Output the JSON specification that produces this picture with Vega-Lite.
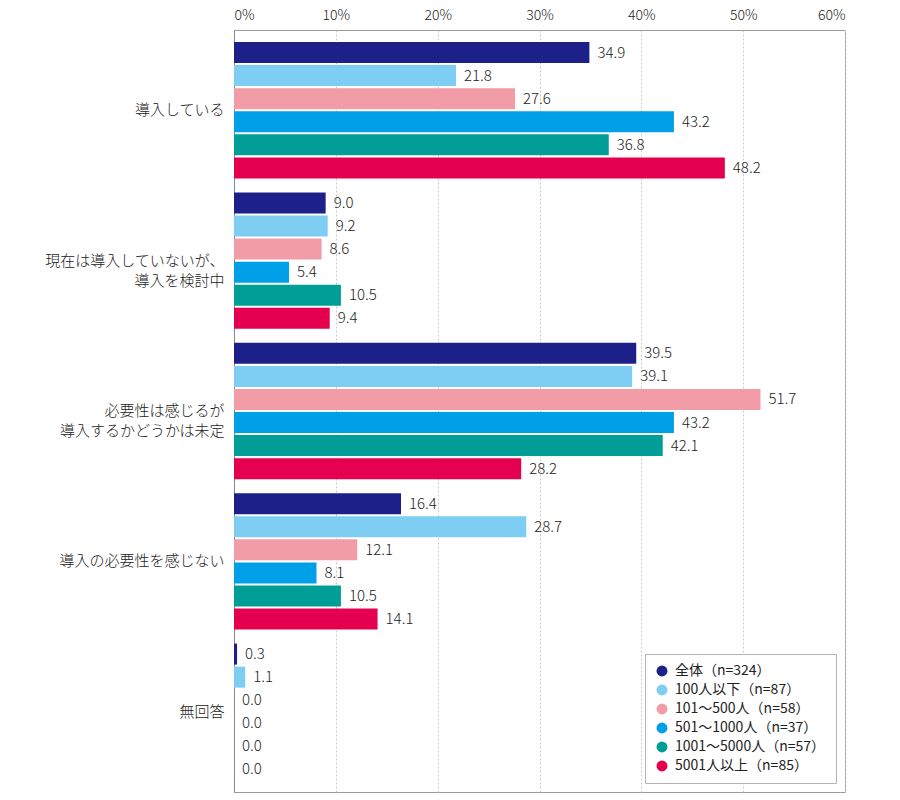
{
  "$schema": "https://vega.github.io/schema/vega-lite/v6.json",
  "width": 611,
  "height": 762,
  "autosize": {"type": "none"},
  "padding": {"left": 234, "top": 30, "right": 55, "bottom": 8},
  "background": "white",
  "config": {
    "font": "Noto Sans CJK JP",
    "view": {"stroke": "#9a9a9a", "strokeWidth": 1}
  },
  "data": {
    "values": [
      {"q": "導入している", "g": "全体（n=324）", "v": 34.9},
      {"q": "導入している", "g": "100人以下（n=87）", "v": 21.8},
      {"q": "導入している", "g": "101～500人（n=58）", "v": 27.6},
      {"q": "導入している", "g": "501～1000人（n=37）", "v": 43.2},
      {"q": "導入している", "g": "1001～5000人（n=57）", "v": 36.8},
      {"q": "導入している", "g": "5001人以上（n=85）", "v": 48.2},
      {"q": "現在は導入していないが、|導入を検討中", "g": "全体（n=324）", "v": 9.0},
      {"q": "現在は導入していないが、|導入を検討中", "g": "100人以下（n=87）", "v": 9.2},
      {"q": "現在は導入していないが、|導入を検討中", "g": "101～500人（n=58）", "v": 8.6},
      {"q": "現在は導入していないが、|導入を検討中", "g": "501～1000人（n=37）", "v": 5.4},
      {"q": "現在は導入していないが、|導入を検討中", "g": "1001～5000人（n=57）", "v": 10.5},
      {"q": "現在は導入していないが、|導入を検討中", "g": "5001人以上（n=85）", "v": 9.4},
      {"q": "必要性は感じるが|導入するかどうかは未定", "g": "全体（n=324）", "v": 39.5},
      {"q": "必要性は感じるが|導入するかどうかは未定", "g": "100人以下（n=87）", "v": 39.1},
      {"q": "必要性は感じるが|導入するかどうかは未定", "g": "101～500人（n=58）", "v": 51.7},
      {"q": "必要性は感じるが|導入するかどうかは未定", "g": "501～1000人（n=37）", "v": 43.2},
      {"q": "必要性は感じるが|導入するかどうかは未定", "g": "1001～5000人（n=57）", "v": 42.1},
      {"q": "必要性は感じるが|導入するかどうかは未定", "g": "5001人以上（n=85）", "v": 28.2},
      {"q": "導入の必要性を感じない", "g": "全体（n=324）", "v": 16.4},
      {"q": "導入の必要性を感じない", "g": "100人以下（n=87）", "v": 28.7},
      {"q": "導入の必要性を感じない", "g": "101～500人（n=58）", "v": 12.1},
      {"q": "導入の必要性を感じない", "g": "501～1000人（n=37）", "v": 8.1},
      {"q": "導入の必要性を感じない", "g": "1001～5000人（n=57）", "v": 10.5},
      {"q": "導入の必要性を感じない", "g": "5001人以上（n=85）", "v": 14.1},
      {"q": "無回答", "g": "全体（n=324）", "v": 0.3},
      {"q": "無回答", "g": "100人以下（n=87）", "v": 1.1},
      {"q": "無回答", "g": "101～500人（n=58）", "v": 0.0},
      {"q": "無回答", "g": "501～1000人（n=37）", "v": 0.0},
      {"q": "無回答", "g": "1001～5000人（n=57）", "v": 0.0},
      {"q": "無回答", "g": "5001人以上（n=85）", "v": 0.0}
    ]
  },
  "encoding": {
    "y": {
      "field": "q",
      "type": "nominal",
      "sort": null,
      "title": null,
      "scale": {"paddingInner": 0.093, "paddingOuter": 0.08},
      "axis": {
        "domain": true,
        "domainColor": "#888888",
        "ticks": false,
        "labelPadding": 10,
        "labelFontSize": 15,
        "labelFontWeight": 300,
        "labelColor": "#222222",
        "labelLineHeight": 20,
        "labelExpr": "split(datum.value, '|')"
      }
    },
    "yOffset": {
      "field": "g",
      "type": "nominal",
      "sort": ["全体（n=324）", "100人以下（n=87）", "101～500人（n=58）", "501～1000人（n=37）", "1001～5000人（n=57）", "5001人以上（n=85）"],
      "scale": {"paddingInner": 0.09}
    },
    "x": {
      "field": "v",
      "type": "quantitative",
      "title": null,
      "scale": {"domain": [0, 60]},
      "axis": {
        "orient": "top",
        "values": [0, 10, 20, 30, 40, 50, 60],
        "labelExpr": "datum.value + '%'",
        "domain": false,
        "ticks": false,
        "labelPadding": 8,
        "labelFontSize": 14,
        "labelFontWeight": 300,
        "labelColor": "#222222",
        "grid": true,
        "gridColor": "#c8c8c8",
        "gridDash": [2, 2]
      }
    }
  },
  "layer": [
    {
      "mark": {"type": "bar"},
      "encoding": {
        "color": {
          "field": "g",
          "type": "nominal",
          "sort": ["全体（n=324）", "100人以下（n=87）", "101～500人（n=58）", "501～1000人（n=37）", "1001～5000人（n=57）", "5001人以上（n=85）"],
          "scale": {
            "domain": ["全体（n=324）", "100人以下（n=87）", "101～500人（n=58）", "501～1000人（n=37）", "1001～5000人（n=57）", "5001人以上（n=85）"],
            "range": ["#1d2088", "#7ecef4", "#f19ca7", "#00a0e9", "#009e96", "#e5004f"]
          },
          "legend": {
            "title": null,
            "orient": "bottom-right",
            "offset": 9,
            "padding": 10,
            "strokeColor": "#b4b4b4",
            "fillColor": "white",
            "symbolType": "circle",
            "symbolSize": 120,
            "symbolOpacity": 1,
            "labelFontSize": 14,
            "labelColor": "#222222",
            "rowPadding": 5,
            "labelOffset": 6,
            "labelLimit": 300
          }
        }
      }
    },
    {
      "mark": {"type": "text", "align": "left", "baseline": "middle", "dx": 8, "fontSize": 15, "fontWeight": 300, "color": "#222222"},
      "encoding": {
        "text": {"field": "v", "type": "quantitative", "format": ".1f"}
      }
    }
  ]
}
